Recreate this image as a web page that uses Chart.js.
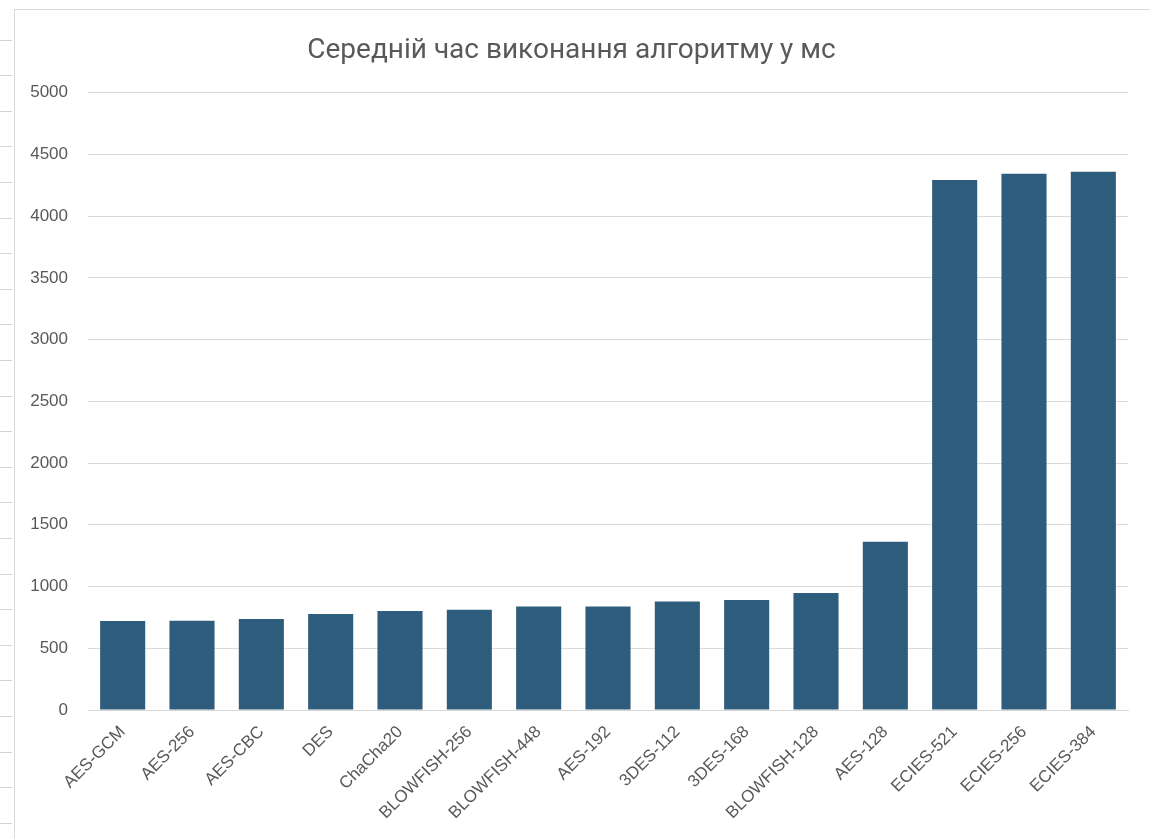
<!DOCTYPE html>
<html>
<head>
<meta charset="utf-8">
<script src="https://cdn.jsdelivr.net/npm/chart.js@4.4.1/dist/chart.umd.min.js"></script>
<style>
    html, body {
        margin: 0;
        padding: 0;
        width: 1150px;
        height: 839px;
        overflow: hidden;
        background: #ffffff;
    }
    .ruler {
        position: absolute;
        left: 0;
        top: 0;
        width: 12px;
        height: 839px;
        background: repeating-linear-gradient(to bottom, transparent 0px, transparent 34.6px, #d4d4d4 34.6px, #d4d4d4 35.6px);
        background-position: 0 5px;
    }
    .chart-box {
        position: absolute;
        left: 14px;
        top: 9px;
        width: 1136px;
        height: 830px;
        border-left: 1px solid #d9d9d9;
        border-top: 1px solid #d9d9d9;
    }
    canvas {
        display: block;
    }
</style>
</head>
<body>
<div class="ruler"></div>
<div class="chart-box">
    <canvas id="execTime" width="1135" height="829"></canvas>
</div>
<script>
// Algorithms on the x axis
const algorithms = ['AES-GCM', 'AES-256', 'AES-CBC', 'DES', 'ChaCha20', 'BLOWFISH-256', 'BLOWFISH-448',
    'AES-192', '3DES-112', '3DES-168', 'BLOWFISH-128', 'AES-128', 'ECIES-521', 'ECIES-256', 'ECIES-384'];

// Average execution time, ms
const avgTimeMs = [720, 723, 737, 777, 801, 812, 839, 839, 879, 890, 947, 1362, 4293, 4342, 4358];

// Y axis range
const yMin = 0;
const yMax = 5000;
const yStep = 500;

const textColor = '#595959';
const gridColor = '#d9d9d9';
const barColor = '#2e5c7d';

document.addEventListener('DOMContentLoaded', function() {
    const ctx = document.getElementById('execTime');

    new Chart(ctx, {
        type: 'bar',
        data: {
            labels: algorithms,
            datasets: [{
                label: 'Середній час виконання алгоритму у мс',
                data: avgTimeMs,
                backgroundColor: barColor,
                borderWidth: 0,
                barPercentage: 0.65,
                categoryPercentage: 1.0
            }]
        },
        options: {
            responsive: false,
            animation: false,
            layout: {
                padding: { left: 0, right: 22, top: 0, bottom: 0 }
            },
            scales: {
                y: {
                    min: yMin,
                    max: yMax,
                    ticks: {
                        stepSize: yStep,
                        color: textColor,
                        padding: 20,
                        font: { family: 'Liberation Sans', size: 17 },
                        callback: function(value) {
                            return String(value);
                        }
                    },
                    grid: {
                        color: gridColor,
                        drawTicks: false
                    },
                    border: { display: false },
                    afterFit: function(scale) {
                        scale.width = 73;
                    }
                },
                x: {
                    ticks: {
                        color: textColor,
                        minRotation: 45,
                        maxRotation: 45,
                        padding: 4,
                        font: { family: 'Liberation Sans', size: 17 }
                    },
                    grid: {
                        display: false
                    },
                    border: { color: gridColor },
                    afterFit: function(scale) {
                        scale.height = 129;
                    }
                }
            },
            plugins: {
                legend: { display: false },
                tooltip: { enabled: false },
                title: {
                    display: true,
                    text: 'Середній час виконання алгоритму у мс',
                    color: textColor,
                    font: { family: 'Roboto', size: 28, weight: 'normal' },
                    padding: { top: 24, bottom: 25 }
                }
            }
        }
    });
});
</script>
</body>
</html>
